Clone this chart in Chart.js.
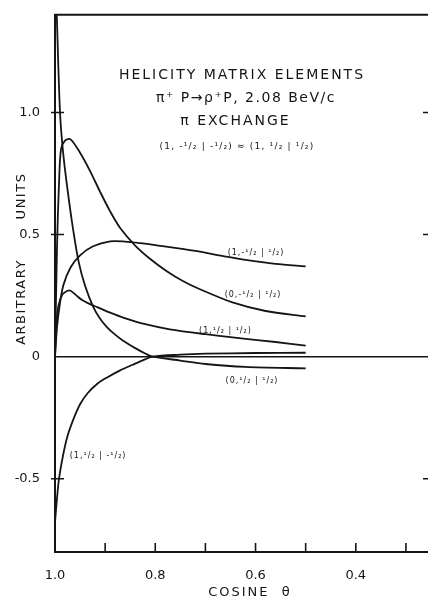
<!DOCTYPE html>
<html>
<head>
<meta charset="utf-8">
<script src="https://cdn.jsdelivr.net/npm/chart.js@4.4.1/dist/chart.umd.min.js"></script>
<style>
  html, body { margin: 0; padding: 0; background: #fff; overflow: hidden; }
  #wrap { width: 440px; height: 604px; }
</style>
</head>
<body>
<div id="wrap"><canvas id="grafico" width="440" height="604"></canvas></div>
<script>
// cos(theta) samples and amplitudes, one pair per curve
const cos0pp = [0.9965, 0.990, 0.984, 0.976, 0.966, 0.953, 0.94, 0.924, 0.91, 0.896, 0.88, 0.864, 0.84, 0.82, 0.805, 0.75, 0.70, 0.62, 0.50];
const amp0pp = [1.40, 1.00, 0.84, 0.70, 0.55, 0.39, 0.29, 0.205, 0.155, 0.12, 0.09, 0.065, 0.035, 0.013, 0.0, -0.016, -0.03, -0.042, -0.048];

const cos0mp = [1.0, 0.996, 0.992, 0.988, 0.98, 0.969, 0.95, 0.93, 0.91, 0.89, 0.87, 0.84, 0.81, 0.777, 0.745, 0.712, 0.646, 0.58, 0.50];
const amp0mp = [0.0, 0.45, 0.71, 0.85, 0.885, 0.89, 0.835, 0.76, 0.675, 0.595, 0.527, 0.455, 0.40, 0.35, 0.31, 0.277, 0.222, 0.187, 0.165];

const cos1mp = [1.0, 0.996, 0.99, 0.983, 0.969, 0.95, 0.924, 0.89, 0.86, 0.83, 0.80, 0.72, 0.66, 0.62, 0.56, 0.50];
const amp1mp = [0.0, 0.12, 0.22, 0.295, 0.365, 0.415, 0.452, 0.472, 0.471, 0.465, 0.457, 0.433, 0.41, 0.396, 0.38, 0.37];

const cos1pp = [1.0, 0.997, 0.993, 0.985, 0.975, 0.969, 0.957, 0.946, 0.93, 0.916, 0.89, 0.864, 0.82, 0.771, 0.70, 0.633, 0.56, 0.50];
const amp1pp = [0.0, 0.14, 0.21, 0.255, 0.27, 0.27, 0.25, 0.232, 0.215, 0.203, 0.18, 0.16, 0.133, 0.112, 0.092, 0.076, 0.06, 0.045];

const cos1pm = [1.0, 0.996, 0.992, 0.984, 0.975, 0.962, 0.95, 0.935, 0.915, 0.896, 0.87, 0.845, 0.825, 0.805, 0.75, 0.70, 0.60, 0.50];
const amp1pm = [-0.68, -0.58, -0.50, -0.405, -0.325, -0.25, -0.195, -0.15, -0.11, -0.085, -0.056, -0.033, -0.015, 0.0, 0.008, 0.012, 0.015, 0.016];

const xTickValues = [1.0, 0.8, 0.6, 0.4];
const xTickLabels = ['1.0', '0.8', '0.6', '0.4'];
const xMinorTicks = [0.9, 0.8, 0.7, 0.6, 0.5, 0.4, 0.3];
const yTickValues = [1.0, 0.5, 0, -0.5];
const yTickLabels = ['1.0', '0.5', '0', '-0.5'];
const yMarkTicks = [1.0, 0.5, -0.5];

const titulo = ['HELICITY MATRIX ELEMENTS', 'π⁺ P→ρ⁺P, 2.08 BeV/c', 'π EXCHANGE'];
const subtitulo = '(1, -¹/₂ | -¹/₂) ≈ (1, ¹/₂ | ¹/₂)';
const rotulos = ['(1,-¹/₂ | ¹/₂)', '(0,-¹/₂ | ¹/₂)', '(1,¹/₂ | ¹/₂)', '(0,¹/₂ | ¹/₂)', '(1,¹/₂ | -¹/₂)'];

const tinta = '#151515';

function pontos(xs, ys) {
    return xs.map((x, i) => ({ x: x, y: ys[i] }));
}

function curva(xs, ys) {
    return {
        data: pontos(xs, ys),
        borderColor: tinta,
        borderWidth: 1.8,
        pointRadius: 0,
        fill: false,
        tension: 0.3,
    };
}

function texto(ctx, str, x, y, font, spacing) {
    ctx.font = font;
    ctx.letterSpacing = spacing + 'px';
    ctx.fillText(str, x, y);
}

const moldura = {
    id: 'moldura',
    beforeDatasetsDraw(chart) {
        const { ctx, chartArea: a, scales } = chart;
        const sx = scales.x, sy = scales.y;
        ctx.save();
        ctx.strokeStyle = tinta;
        ctx.lineWidth = 2;
        ctx.beginPath();
        ctx.moveTo(a.right + 5, a.top);
        ctx.lineTo(a.left, a.top);
        ctx.lineTo(a.left, a.bottom);
        ctx.lineTo(a.right + 5, a.bottom);
        ctx.stroke();

        // zero line
        ctx.lineWidth = 1.5;
        const y0 = sy.getPixelForValue(0);
        ctx.beginPath();
        ctx.moveTo(a.left, y0);
        ctx.lineTo(a.right + 5, y0);
        ctx.stroke();

        // tick marks pointing into the plot
        ctx.lineWidth = 1.6;
        xMinorTicks.forEach(v => {
            const px = sx.getPixelForValue(v);
            ctx.beginPath();
            ctx.moveTo(px, a.bottom);
            ctx.lineTo(px, a.bottom - 9);
            ctx.stroke();
        });
        yMarkTicks.forEach(v => {
            const py = sy.getPixelForValue(v);
            ctx.beginPath();
            ctx.moveTo(a.left - 4, py);
            ctx.lineTo(a.left + 9, py);
            ctx.moveTo(a.right - 8, py);
            ctx.lineTo(a.right, py);
            ctx.stroke();
        });
        ctx.restore();
    },
    afterDatasetsDraw(chart) {
        const { ctx, scales } = chart;
        const sx = scales.x, sy = scales.y;
        const P = (c, v) => [sx.getPixelForValue(c), sy.getPixelForValue(v)];
        ctx.save();
        ctx.fillStyle = tinta;
        ctx.textAlign = 'center';
        ctx.textBaseline = 'middle';

        let p = P(0.627, 1.153);
        texto(ctx, titulo[0], p[0], p[1], '14px "DejaVu Sans"', 2);
        p = P(0.619, 1.056);
        texto(ctx, titulo[1], p[0], p[1], '14px "DejaVu Sans"', 1.5);
        p = P(0.640, 0.962);
        texto(ctx, titulo[2], p[0], p[1], '14px "DejaVu Sans"', 2);
        p = P(0.637, 0.862);
        texto(ctx, subtitulo, p[0], p[1], '9px "DejaVu Sans"', 1.2);

        const lugares = [[0.599, 0.426], [0.605, 0.253], [0.660, 0.104], [0.607, -0.100], [0.914, -0.406]];
        rotulos.forEach((r, i) => {
            const q = P(lugares[i][0], lugares[i][1]);
            texto(ctx, r, q[0], q[1], '8px "DejaVu Sans"', 1);
        });

        // axis titles
        texto(ctx, 'COSINE  θ', 250, 593, '13px "DejaVu Sans"', 2);
        ctx.translate(22, 0);
        ctx.rotate(-Math.PI / 2);
        texto(ctx, 'ARBITRARY', -302, 0, '13px "DejaVu Sans"', 1.5);
        texto(ctx, 'UNITS', -196, 0, '13px "DejaVu Sans"', 1.5);
        ctx.restore();
    }
};

const fonteTicks = { family: 'DejaVu Sans', size: 13 };

new Chart(document.getElementById('grafico').getContext('2d'), {
    type: 'line',
    data: {
        datasets: [
            curva(cos0pp, amp0pp),
            curva(cos0mp, amp0mp),
            curva(cos1mp, amp1mp),
            curva(cos1pp, amp1pp),
            curva(cos1pm, amp1pm),
        ],
    },
    options: {
        responsive: false,
        animation: false,
        devicePixelRatio: 1,
        layout: { padding: { top: 5, right: 9, left: 0, bottom: 0 } },
        plugins: { legend: { display: false }, tooltip: { enabled: false } },
        scales: {
            x: {
                type: 'linear',
                reverse: true,
                min: 0.25,
                max: 1.0,
                grid: { display: false },
                border: { display: false },
                afterBuildTicks: s => { s.ticks = xTickValues.map(v => ({ value: v })); },
                afterFit: s => { s.height = 52; },
                ticks: {
                    color: tinta,
                    font: fonteTicks,
                    padding: 8,
                    maxRotation: 0,
                    autoSkip: false,
                    callback: (v, i) => xTickLabels[i],
                },
            },
            y: {
                type: 'linear',
                min: -0.8,
                max: 1.4,
                grid: { display: false },
                border: { display: false },
                afterBuildTicks: s => { s.ticks = yTickValues.map(v => ({ value: v })); },
                afterFit: s => { s.width = 55; },
                ticks: {
                    color: tinta,
                    font: fonteTicks,
                    padding: 7,
                    autoSkip: false,
                    callback: (v, i) => yTickLabels[i],
                },
            },
        },
    },
    plugins: [moldura],
});
</script>
</body>
</html>
